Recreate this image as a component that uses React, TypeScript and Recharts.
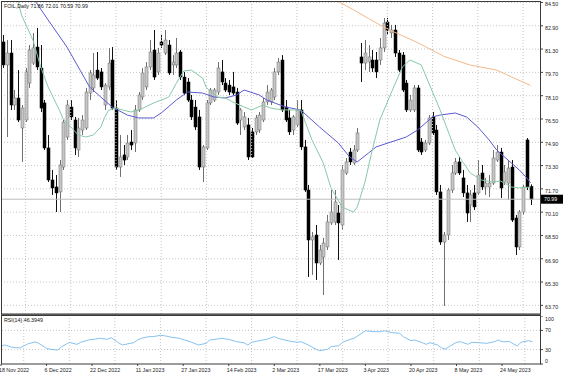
import React from "react";
import {
  ComposedChart,
  Bar,
  Line,
  XAxis,
  YAxis,
  CartesianGrid,
  ReferenceLine,
} from "recharts";

// daily candles, oldest first (18 Nov 2022 -> 30 May 2023)
const opens = [
  81.79, 80.21, 81.03, 77.46, 77.94, 75.88, 76.43, 78.97, 80.34, 81.44,
  80.0, 77.6, 74.51, 72.31, 71.83, 71.49, 73.2, 75.26, 77.32, 76.43,
  74.37, 75.74, 75.88, 78.28, 78.63, 79.86, 79.73, 77.46, 78.7, 80.55,
  77.25, 73.2, 74.03, 73.89, 74.92, 74.85, 77.12, 78.01, 78.7, 80.07,
  81.24, 79.73, 81.79, 81.03, 81.58, 80.21, 80.21, 81.1, 79.38, 79.04,
  77.8, 77.32, 76.64, 73.2, 74.51, 77.6, 77.8, 78.35, 79.73, 78.97,
  78.83, 78.7, 78.35, 76.43, 75.95, 76.09, 75.61, 75.61, 75.74, 76.43,
  77.67, 77.67, 78.01, 79.73, 80.55, 77.32, 76.57, 75.74, 76.09, 77.12,
  74.58, 71.62, 68.19, 68.53, 66.61, 67.02, 67.71, 69.36, 69.43, 70.04,
  69.22, 72.79, 74.23, 73.48, 74.37, 80.76, 80.34, 80.41, 80.55, 80.55,
  80.55, 81.38, 83.16, 82.41, 82.61, 81.03, 80.89, 78.97, 77.12, 77.12,
  78.63, 74.92, 74.37, 74.85, 76.64, 75.74, 71.49, 68.05, 68.53, 71.62,
  72.79, 73.55, 72.45, 71.42, 70.59, 71.42, 71.42, 72.79, 71.83, 71.83,
  72.1, 73.68, 74.23, 72.17, 72.1, 73.2, 69.7, 67.71, 70.11, 75.06,
  71.86,
];
const highs = [
  82.27, 81.92, 81.92, 78.49, 79.86, 77.46, 80.0, 81.58, 82.41, 82.75,
  81.58, 77.8, 75.4, 73.0, 72.65, 73.68, 76.43, 77.8, 77.8, 76.64,
  76.57, 76.77, 78.63, 79.86, 81.03, 81.1, 80.0, 78.97, 81.38, 81.44,
  77.8, 75.4, 74.71, 75.4, 75.74, 77.46, 78.35, 80.0, 80.41, 81.92,
  82.61, 81.38, 82.27, 82.61, 81.92, 80.89, 82.06, 81.24, 79.73, 79.31,
  78.15, 77.8, 77.12, 74.71, 77.8, 78.63, 78.63, 80.41, 80.55, 79.31,
  79.18, 79.73, 78.63, 77.25, 76.98, 76.57, 75.88, 76.77, 76.98, 77.94,
  78.83, 78.63, 80.0, 80.69, 80.89, 77.8, 77.12, 76.77, 77.8, 77.8,
  75.06, 71.97, 68.74, 69.22, 67.85, 68.33, 69.91, 71.62, 71.62, 70.59,
  73.34, 73.82, 74.51, 74.71, 75.88, 81.72, 81.92, 81.58, 81.24, 81.1,
  82.06, 83.44, 83.44, 82.96, 82.96, 81.24, 81.1, 79.18, 78.15, 78.83,
  78.83, 75.19, 75.06, 76.77, 76.98, 76.09, 71.97, 68.74, 71.76, 73.34,
  73.82, 73.89, 73.0, 71.97, 71.62, 71.97, 73.68, 73.34, 72.45, 72.65,
  74.37, 74.71, 74.51, 73.34, 73.68, 73.68, 69.91, 70.25, 71.97, 75.19,
  72.01,
];
const lows = [
  80.0, 75.26, 77.12, 77.12, 76.29, 73.55, 76.29, 78.63, 80.21, 79.86,
  76.98, 74.37, 72.17, 71.28, 70.11, 70.11, 73.0, 75.06, 76.43, 74.03,
  73.89, 75.4, 75.74, 77.8, 78.35, 79.18, 78.49, 77.12, 78.49, 77.12,
  73.0, 72.52, 73.34, 73.68, 74.37, 74.23, 76.98, 77.8, 78.49, 79.86,
  79.18, 79.52, 81.38, 80.89, 79.52, 79.52, 80.0, 79.18, 78.15, 77.67,
  76.43, 75.74, 73.0, 72.17, 74.37, 77.46, 77.67, 78.15, 78.83, 78.35,
  78.15, 78.15, 76.09, 75.4, 75.74, 73.68, 73.82, 75.4, 75.54, 76.29,
  77.46, 77.46, 77.8, 79.52, 76.98, 76.29, 75.4, 75.4, 75.95, 74.37,
  71.49, 65.65, 65.79, 65.44, 66.47, 64.41, 67.5, 69.22, 69.22, 66.82,
  68.88, 72.65, 73.34, 73.34, 74.23, 79.04, 79.86, 79.73, 79.73, 79.31,
  80.21, 81.1, 82.27, 82.06, 80.76, 79.73, 78.35, 76.98, 76.98, 76.98,
  74.23, 74.03, 74.23, 74.71, 75.4, 71.28, 67.85, 63.66, 68.19, 71.42,
  72.65, 72.65, 71.14, 69.43, 69.43, 70.25, 71.28, 71.62, 71.28, 71.14,
  71.97, 73.55, 71.07, 71.97, 70.94, 69.43, 67.16, 67.5, 69.91, 71.62,
  70.59,
];
const closes = [
  80.21, 81.03, 77.46, 77.94, 76.43, 77.25, 79.73, 81.24, 81.38, 80.07,
  77.25, 74.51, 72.31, 71.76, 71.42, 73.34, 76.29, 77.46, 76.64, 74.51,
  75.88, 76.43, 78.35, 79.66, 79.52, 79.31, 78.7, 78.83, 80.34, 77.25,
  73.2, 73.89, 73.68, 74.85, 74.71, 77.12, 78.15, 79.66, 80.07, 81.1,
  79.38, 81.03, 81.58, 81.92, 79.66, 80.41, 81.03, 79.38, 78.28, 77.8,
  76.64, 75.95, 73.2, 74.58, 77.6, 78.49, 78.49, 80.0, 79.04, 78.49,
  78.35, 78.28, 76.22, 77.12, 76.64, 73.89, 73.89, 76.57, 76.77, 77.67,
  78.35, 78.49, 79.73, 80.41, 77.12, 76.43, 75.61, 76.64, 77.12, 74.58,
  71.62, 68.19, 68.4, 66.61, 67.5, 67.98, 69.43, 70.11, 70.8, 69.36,
  73.0, 73.55, 73.55, 74.37, 75.54, 80.34, 81.03, 80.76, 80.0, 79.73,
  81.38, 83.09, 82.61, 82.61, 81.03, 79.86, 78.49, 77.12, 77.8, 78.63,
  74.37, 74.23, 74.85, 76.57, 75.54, 71.49, 68.05, 68.53, 71.62, 72.79,
  73.55, 72.79, 71.42, 70.04, 71.28, 70.46, 72.65, 71.83, 72.1, 72.1,
  73.82, 74.23, 71.76, 72.86, 73.13, 69.56, 67.71, 70.11, 71.83, 71.83,
  70.99,
];

// moving averages and RSI, read as [bar index, value]
const fastMa = [
  [3, 85.5], [5, 83.6], [8, 81.9], [10, 80.1], [12, 78.7], [15, 77.1],
  [16, 76.5], [18, 75.95], [20, 75.4], [22, 75.26], [24, 75.4], [26, 75.95],
  [27, 76.6], [28, 77.1], [30, 77.25], [32, 77.1], [34, 76.98], [36, 77.1],
  [40, 77.6], [44, 78.0], [46, 78.95], [48, 79.8], [50, 79.86], [53, 79.3],
  [54, 78.65], [57, 78.0], [59, 77.94], [61, 77.67], [64, 77.32], [66, 77.12],
  [69, 77.46], [71, 77.25], [74, 77.12], [79, 77.12], [82, 75.06], [85, 73.48],
  [87, 71.8], [90, 70.45], [93, 70.11], [94, 70.45], [96, 72.1], [98, 74.37],
  [100, 76.43], [103, 78.28], [106, 80.07], [108, 80.55], [111, 80.21],
  [113, 78.97], [116, 77.12], [118, 75.74], [120, 74.37], [122, 73.55],
  [124, 72.79], [127, 72.31], [130, 72.17], [132, 72.24], [135, 71.83],
  [137, 71.76], [140, 71.83],
];
const slowMa = [
  [7, 85.2], [12, 83.3], [17, 81.44], [20, 80.07], [23, 78.7], [26, 78.0],
  [29, 77.32], [33, 76.77], [36, 76.57], [40, 76.57], [42, 76.91], [46, 77.8],
  [49, 78.35], [53, 78.28], [56, 78.01], [59, 77.94], [62, 78.15], [64, 78.49],
  [68, 78.15], [70, 77.8], [75, 77.32], [79, 77.12], [84, 75.95], [89, 74.85],
  [92, 73.89], [94, 73.55], [97, 74.16], [99, 74.58], [103, 74.92], [107, 75.26],
  [110, 75.74], [114, 76.64], [116, 76.77], [120, 76.91], [123, 76.64],
  [126, 75.95], [129, 75.06], [131, 74.37], [134, 73.68], [137, 73.0],
  [139, 72.45], [140, 72.1],
];
const longMa = [
  [88, 84.7], [93, 84.0], [97, 83.4], [100, 82.96], [104, 82.45], [110, 81.75],
  [117, 80.8], [124, 80.2], [131, 79.86], [135, 79.38], [140, 78.8],
];
const rsi14 = [
  [0, 37.5], [1, 39.6], [3, 34.7], [5, 33.5], [7, 41.7], [9, 46], [10, 43],
  [12, 32.6], [13, 30.6], [15, 29.2], [16, 36.1], [18, 45.1], [20, 41],
  [21, 45.1], [23, 50], [25, 52.1], [26, 53.5], [28, 51.4], [29, 54.9],
  [30, 50], [31, 44], [32, 39.6], [34, 43], [35, 44.4], [36, 50], [37, 53.5],
  [39, 57], [40, 57], [41, 58.3], [42, 59.7], [43, 59], [45, 55.6], [47, 53.5],
  [49, 48.6], [50, 46], [52, 39.6], [54, 43], [55, 50], [57, 52.1], [58, 53.5],
  [60, 51.4], [62, 46.5], [64, 44.4], [65, 39.6], [66, 45.1], [68, 48.6],
  [70, 51.4], [72, 57], [73, 53.5], [74, 51.4], [76, 47.9], [78, 45.1],
  [79, 46.5], [81, 39.6], [83, 30.6], [84, 27.8], [86, 30.6], [87, 36.1],
  [89, 38.2], [90, 45.1], [92, 51.4], [93, 53.5], [95, 63.9], [96, 69.4],
  [98, 67.4], [100, 67.4], [101, 69.4], [103, 65.3], [105, 63.9], [106, 57],
  [108, 48.6], [109, 50], [111, 44.4], [112, 41], [113, 44.4], [115, 39.6],
  [116, 34], [117, 30.6], [118, 36.1], [120, 45.1], [121, 46.5], [123, 41],
  [124, 45.1], [126, 44.4], [128, 43], [130, 46.5], [131, 50], [132, 46.5],
  [134, 46.5], [136, 37.5], [137, 45.1], [139, 48.6], [140, 46.39],
];

const dateLabels = [
  "18 Nov 2022", "6 Dec 2022", "22 Dec 2022", "11 Jan 2023", "27 Jan 2023",
  "14 Feb 2023", "2 Mar 2023", "17 Mar 2023", "3 Apr 2023", "20 Apr 2023",
  "8 May 2023", "24 May 2023",
];
const dateIdx = [0, 12, 24, 36, 48, 60, 72, 84, 96, 108, 120, 132];
const gridIdx = [6, 18, 30, 42, 54, 66, 78, 90, 102, 114, 126, 138];
const priceTicks = [
  84.5, 82.9, 81.3, 79.7, 78.1, 76.5, 74.9, 73.3, 71.7, 70.1, 68.5, 66.9, 65.3, 63.7,
];
const rsiTicks = [100, 70, 30, 0];
const lastPrice = 70.99;

const font = "'Liberation Sans', Arial, sans-serif";
const FS = 5.3;
const GRID = "#c6c6c6";

const toMap = (pairs: number[][]) => new Map(pairs.map((p) => [p[0], p[1]]));
const fastMap = toMap(fastMa);
const slowMap = toMap(slowMa);
const longMap = toMap(longMa);
const rsiMap = toMap(rsi14);

const data = Array.from({ length: opens.length + 2 }, (_, i) => {
  const has = i < opens.length;
  return {
    i,
    o: has ? opens[i] : null,
    h: has ? highs[i] : null,
    l: has ? lows[i] : null,
    c: has ? closes[i] : null,
    range: has ? [lows[i], highs[i]] : null,
    fast: fastMap.get(i) ?? null,
    slow: slowMap.get(i) ?? null,
    long: longMap.get(i) ?? null,
    rsi: rsiMap.get(i) ?? null,
  };
});

const Candle = (props: any) => {
  const { x, y, width, height, payload } = props;
  if (!payload || payload.o == null || x == null) return null;
  const top = Math.min(y, y + height);
  const hgt = Math.abs(height);
  const span = payload.h - payload.l || 1;
  const py = (v: number) => top + ((payload.h - v) / span) * hgt;
  const cx = Math.round(x + width / 2) + 0.5;
  const up = payload.c >= payload.o;
  const b1 = py(Math.max(payload.o, payload.c));
  const b2 = py(Math.min(payload.o, payload.c));
  return (
    <g>
      <line x1={cx} x2={cx} y1={top} y2={top + hgt} stroke={up ? "#707070" : "#111"} strokeWidth={1} />
      <rect
        x={cx - 1.5}
        y={b1}
        width={3}
        height={Math.max(1, b2 - b1)}
        fill={up ? "#c6c6c6" : "#000"}
        stroke={up ? "#707070" : "#000"}
        strokeWidth={0.5}
      />
    </g>
  );
};

const PriceTick = (props: any) => {
  const { x, y, payload } = props;
  return (
    <text x={x} y={y + 3.9} fontSize={FS} fontFamily={font} fill="#222">
      {Number(payload.value).toFixed(2)}
    </text>
  );
};

const RsiTick = (props: any) => {
  const { x, y, payload } = props;
  const shift = payload.value === 100 ? 3.4 : payload.value === 0 ? -2.8 : 0;
  return (
    <text x={x} y={y + 1.9 + shift} fontSize={FS} fontFamily={font} fill="#222">
      {payload.value}
    </text>
  );
};

const DateTick = (props: any) => {
  const { x, y, payload } = props;
  const k = dateIdx.indexOf(payload.value);
  return (
    <text x={x - 2} y={y + 4} fontSize={FS} fontFamily={font} fill="#222">
      {dateLabels[k]}
    </text>
  );
};

const LastLabel = (props: any) => {
  const vb = props.viewBox || {};
  const x = vb.x + vb.width + 1;
  const y = vb.y;
  return (
    <g>
      <rect x={x} y={y - 4.5} width={22} height={9} fill="#000" />
      <text x={x + 3} y={y + 2} fontSize={FS} fontFamily={font} fill="#fff">
        {lastPrice.toFixed(2)}
      </text>
    </g>
  );
};

const App = () => {
  return (
    <div style={{ position: "relative", width: 564, height: 376, background: "#fff", overflow: "hidden" }}>
      <style>{`body{margin:0}`}</style>

      <div style={{ position: "absolute", left: 0, top: 0 }}>
        <ComposedChart
          width={564}
          height={316}
          data={data}
          margin={{ top: 2, right: 0, bottom: 2, left: 1 }}
          barCategoryGap={0}
          barGap={0}
        >
          <CartesianGrid vertical={false} stroke={GRID} strokeDasharray="1 2" />
          <XAxis dataKey="i" hide />
          <YAxis
            orientation="right"
            width={24}
            domain={[63.106, 84.534]}
            allowDataOverflow
            ticks={priceTicks}
            interval={0}
            axisLine={false}
            tickSize={3}
            tickLine={{ stroke: "#444" }}
            tick={<PriceTick />}
          />
          {gridIdx.map((g) => (
            <ReferenceLine key={g} x={g} stroke={GRID} strokeDasharray="1 2" />
          ))}
          <ReferenceLine y={lastPrice} stroke="#bdbdbd" label={<LastLabel />} />
          <Bar dataKey="range" shape={(p: any) => <Candle {...p} />} isAnimationActive={false} />
          <Line type="linear" dataKey="long" stroke="#f1b98c" strokeWidth={1} dot={false} connectNulls isAnimationActive={false} />
          <Line type="linear" dataKey="slow" stroke="#5a5ad2" strokeWidth={1} dot={false} connectNulls isAnimationActive={false} />
          <Line type="linear" dataKey="fast" stroke="#86c9a6" strokeWidth={1} dot={false} connectNulls isAnimationActive={false} />
        </ComposedChart>
      </div>

      <div style={{ position: "absolute", left: 0, top: 316 }}>
        <ComposedChart width={564} height={60} data={data} margin={{ top: 0, right: 0, bottom: 0, left: 1 }}>
          <XAxis
            dataKey="i"
            ticks={dateIdx}
            interval={0}
            height={12}
            axisLine={false}
            tickSize={2}
            tickLine={{ stroke: "#444" }}
            tick={<DateTick />}
          />
          <YAxis
            orientation="right"
            width={24}
            domain={[0, 100]}
            ticks={rsiTicks}
            interval={0}
            axisLine={false}
            tickSize={3}
            tickLine={{ stroke: "#444" }}
            tick={<RsiTick />}
          />
          {gridIdx.map((g) => (
            <ReferenceLine key={g} x={g} stroke={GRID} strokeDasharray="1 2" />
          ))}
          <ReferenceLine y={70} stroke={GRID} strokeDasharray="1 2" />
          <ReferenceLine y={30} stroke={GRID} strokeDasharray="1 2" />
          <Line type="linear" dataKey="rsi" stroke="#86c2ee" strokeWidth={1} dot={false} connectNulls isAnimationActive={false} />
        </ComposedChart>
      </div>

      <svg width={564} height={376} style={{ position: "absolute", left: 0, top: 0, pointerEvents: "none" }}>
        <rect x={1.5} y={1.5} width={539} height={312.5} fill="none" stroke="#3a3a3a" />
        <line x1={1} x2={541} y1={315} y2={315} stroke="#5a5a5a" strokeWidth={2} />
        <rect x={1.5} y={315.5} width={539} height={48.5} fill="none" stroke="#3a3a3a" />
        <text x={4} y={8} fontSize={FS} fontFamily={font} fill="#111">
          FOIL,Daily  71.86 72.01 70.59 70.99
        </text>
        <text x={4} y={322} fontSize={FS} fontFamily={font} fill="#111">
          RSI(14) 46.3949
        </text>
      </svg>
    </div>
  );
};

export default App;
